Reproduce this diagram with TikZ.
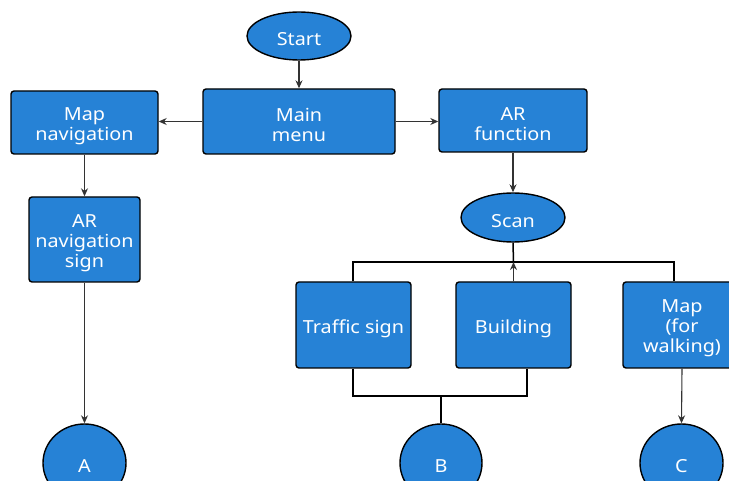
\documentclass[tikz,border=0pt]{standalone}
\usepackage{fontspec}
\setmainfont{Noto Sans}[FakeStretch=1.1]
\usetikzlibrary{shapes.geometric,arrows.meta}
\definecolor{boxblue}{RGB}{38,130,214}
\tikzset{
  lbl/.style={text=white, align=center, inner sep=0pt, yshift=-3.5pt,
    font=\fontsize{18}{20}\selectfont},
  base/.style={draw=black, line width=1.4pt, fill=boxblue, inner sep=0pt,
    label={[lbl]center:{#1}}},
  procbox/.style={base=#1, rectangle, rounded corners=3pt},
  term/.style={base=#1, ellipse},
  conn/.style={draw=black!80, line width=1.1pt, -{Stealth[length=8pt,width=7pt]}},
  bus/.style={draw=black, line width=1.5pt},
}
\begin{document}
\begin{tikzpicture}[x=1pt,y=-1pt]
\useasboundingbox (0,0) rectangle (729,481);
\node[term={Start}, minimum width=104pt, minimum height=48pt] (start) at (299,36) {};
\node[procbox={Main\\menu}, minimum width=192pt, minimum height=65pt] (main) at (299,121.5) {};
\node[procbox={Map\\navigation}, minimum width=147pt, minimum height=63pt] (mapnav) at (84.5,122.5) {};
\node[procbox={AR\\navigation\\sign}, minimum width=111pt, minimum height=85pt] (arnav) at (84.5,239.5) {};
\node[term={A}, minimum width=83pt, minimum height=78pt] (A) at (84.5,463) {};
\node[procbox={AR\\function}, minimum width=148pt, minimum height=63pt] (arfunc) at (513,120.5) {};
\node[term={Scan}, minimum width=104pt, minimum height=49pt] (scan) at (513,217.5) {};
\node[procbox={Traffic sign}, minimum width=115pt, minimum height=86pt] (traffic) at (353.5,325) {};
\node[procbox={Building}, minimum width=115pt, minimum height=86pt] (building) at (513.5,325) {};
\node[procbox={Map\\(for\\walking)}, minimum width=118pt, minimum height=86pt] (mapwalk) at (682,325) {};
\node[term={B}, minimum width=82pt, minimum height=78pt] (B) at (441,463) {};
\node[term={C}, minimum width=83pt, minimum height=78pt] (C) at (681.5,463) {};

\coordinate (busmid) at (513.5,262);
\coordinate (busL) at (353,262);
\coordinate (busR) at (674,262);
\coordinate (lowL) at (353,396);
\coordinate (lowR) at (527,396);
\coordinate (lowB) at (441,396);

\draw[conn] (start.south) -- (main.north);
\draw[conn] (main.west) -- (mapnav.east |- main.west);
\draw[conn] (main.east) -- (arfunc.west |- main.east);
\draw[conn] (mapnav.south) -- (arnav.north);
\draw[conn] (arnav.south) -- (A.north);
\draw[conn] (arfunc.south) -- (scan.north);
\draw[conn] (mapwalk.south) -- (C.north);
\draw[bus] (scan.south) -- (busmid);
\draw[bus] (traffic.north -| busL) -- (busL) -- (busR) -- (mapwalk.north -| busR);
\draw[conn] (building.north) -- (busmid);
\draw[bus] (traffic.south -| lowL) -- (lowL) -- (lowR) -- (building.south -| lowR);
\draw[bus] (B.north) -- (lowB);
\end{tikzpicture}
\end{document}
